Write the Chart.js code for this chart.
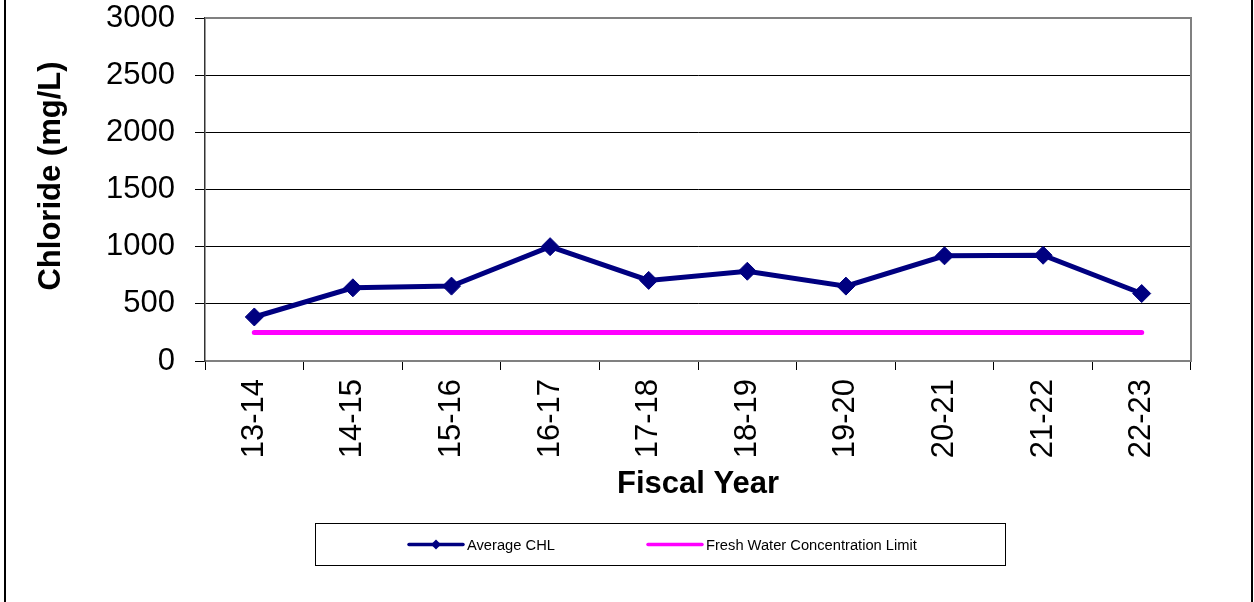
<!DOCTYPE html>
<html>
<head>
<meta charset="utf-8">
<title>Chloride by Fiscal Year</title>
<script src="https://cdn.jsdelivr.net/npm/chart.js@4/dist/chart.umd.min.js"></script>
<style>
  html, body { margin: 0; padding: 0; background: #ffffff; }
  #wrap { width: 1254px; height: 602px; }
</style>
</head>
<body>
<div id="wrap"><canvas id="chart" width="1254" height="602"></canvas></div>
<script>
// Fiscal years on the category axis
const fiscalYears = ['13-14', '14-15', '15-16', '16-17', '17-18', '18-19', '19-20', '20-21', '21-22', '22-23'];
// Average chloride concentration per fiscal year (mg/L)
const averageChl = [385, 640, 655, 1000, 705, 785, 655, 920, 925, 590];
// Fresh water concentration limit (mg/L)
const freshWaterLimit = [250, 250, 250, 250, 250, 250, 250, 250, 250, 250];
// Value axis ticks
const yTicks = [0, 500, 1000, 1500, 2000, 2500, 3000];

const FONT = '"Liberation Sans", Arial, Helvetica, sans-serif';

// Page frame, plot border, rotated y title and boxed legend
const decorations = {
  id: 'decorations',
  beforeDraw(chart) {
    const ctx = chart.ctx;
    ctx.save();
    ctx.fillStyle = '#ffffff';
    ctx.fillRect(0, 0, chart.width, chart.height);
    ctx.strokeStyle = '#000000';
    ctx.lineWidth = 2;
    ctx.beginPath();
    ctx.moveTo(5, 0); ctx.lineTo(5, chart.height);
    ctx.moveTo(1252, 0); ctx.lineTo(1252, chart.height);
    ctx.stroke();
    ctx.restore();
  },
  beforeDatasetsDraw(chart) {
    const { ctx, chartArea: a } = chart;
    ctx.save();
    ctx.strokeStyle = '#808080';
    ctx.lineWidth = 2;
    ctx.beginPath();
    ctx.moveTo(a.left, a.top);
    ctx.lineTo(a.right, a.top);
    ctx.lineTo(a.right, a.bottom);
    ctx.stroke();
    ctx.restore();
  },
  afterDraw(chart) {
    const ctx = chart.ctx;
    ctx.save();
    // y axis title
    ctx.translate(60, 176);
    ctx.rotate(-Math.PI / 2);
    ctx.fillStyle = '#000000';
    ctx.font = 'bold 31px ' + FONT;
    ctx.textAlign = 'center';
    ctx.textBaseline = 'alphabetic';
    ctx.fillText('Chloride (mg/L)', 0, 0);
    ctx.restore();

    // legend box
    ctx.save();
    ctx.strokeStyle = '#000000';
    ctx.lineWidth = 1;
    ctx.strokeRect(315.5, 523.5, 690, 42);
    const cy = 544.5;
    const items = [
      { ds: chart.data.datasets[0], x: 409 },
      { ds: chart.data.datasets[1], x: 648 }
    ];
    ctx.font = '14.7px ' + FONT;
    ctx.textBaseline = 'middle';
    ctx.textAlign = 'left';
    items.forEach(({ ds, x }) => {
      ctx.strokeStyle = ds.borderColor;
      ctx.lineWidth = 3.5;
      ctx.lineCap = 'round';
      ctx.beginPath();
      ctx.moveTo(x, cy);
      ctx.lineTo(x + 54, cy);
      ctx.stroke();
      if (ds.pointRadius > 0) {
        const mx = x + 27, r = 5;
        ctx.fillStyle = ds.borderColor;
        ctx.beginPath();
        ctx.moveTo(mx - r, cy);
        ctx.lineTo(mx, cy - r);
        ctx.lineTo(mx + r, cy);
        ctx.lineTo(mx, cy + r);
        ctx.closePath();
        ctx.fill();
      }
      ctx.fillStyle = '#000000';
      ctx.fillText(ds.label, x + 58, cy + 1);
    });
    ctx.restore();
  }
};

new Chart(document.getElementById('chart'), {
  type: 'line',
  data: {
    labels: fiscalYears,
    datasets: [
      {
        label: 'Average CHL',
        data: averageChl,
        borderColor: '#000080',
        backgroundColor: '#000080',
        borderWidth: 5,
        pointStyle: 'rectRot',
        pointRadius: 9,
        pointBorderWidth: 1,
        pointBackgroundColor: '#000080',
        pointBorderColor: '#000080',
        tension: 0,
        fill: false,
        order: 0
      },
      {
        label: 'Fresh Water Concentration Limit',
        data: freshWaterLimit,
        borderColor: '#ff00ff',
        backgroundColor: '#ff00ff',
        borderWidth: 5,
        borderCapStyle: 'round',
        pointRadius: 0,
        tension: 0,
        fill: false,
        order: 1
      }
    ]
  },
  options: {
    responsive: false,
    animation: false,
    events: [],
    layout: { padding: { left: 0, top: 18, right: 63, bottom: 99 } },
    plugins: {
      legend: { display: false },
      tooltip: { enabled: false }
    },
    scales: {
      x: {
        offset: true,
        grid: { offset: true, drawOnChartArea: false, tickLength: 9, color: '#000000', lineWidth: 1 },
        border: { color: '#808080', width: 2 },
        ticks: {
          autoSkip: false,
          minRotation: 90,
          maxRotation: 90,
          padding: 9,
          color: '#000000',
          font: { family: FONT, size: 31 }
        },
        title: {
          display: true,
          text: 'Fiscal Year',
          color: '#000000',
          padding: 0,
          font: { family: FONT, size: 31, weight: 'bold' }
        },
        afterFit(scale) {
          scale.height = 142;
          scale.paddingLeft = 0;
          scale.paddingRight = 0;
        }
      },
      y: {
        min: yTicks[0],
        max: yTicks[yTicks.length - 1],
        afterBuildTicks(scale) { scale.ticks = yTicks.map(v => ({ value: v })); },
        grid: { color: '#000000', lineWidth: 1, tickLength: 10 },
        border: { color: '#333333', width: 1.5 },
        ticks: {
          padding: 20,
          color: '#000000',
          font: { family: FONT, size: 31 },
          callback: v => String(v)
        },
        afterFit(scale) {
          scale.width = 205;
          scale.paddingTop = 0;
          scale.paddingBottom = 0;
        }
      }
    }
  },
  plugins: [decorations]
});
</script>
</body>
</html>
